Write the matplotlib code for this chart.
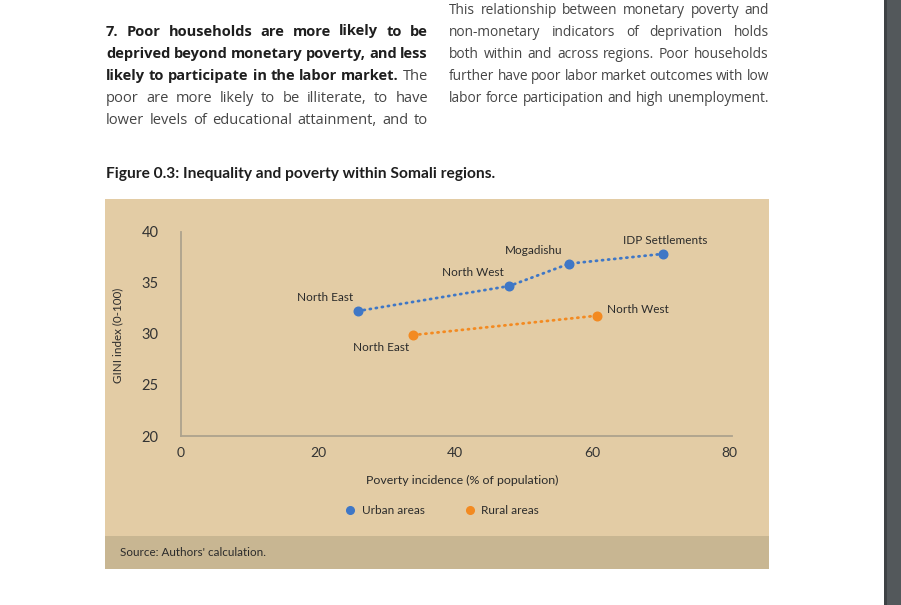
import matplotlib.pyplot as plt
from matplotlib.patches import Rectangle
from matplotlib.lines import Line2D
from matplotlib.font_manager import FontProperties

# data
urban_names = ['North East', 'North West', 'Mogadishu', 'IDP Settlements']
urban_poverty = [25.8, 47.9, 56.7, 70.3]
urban_gini = [32.25, 34.7, 36.9, 37.85]

rural_names = ['North East', 'North West']
rural_poverty = [33.9, 60.8]
rural_gini = [29.9, 31.8]

x_ticks = [0, 20, 40, 60, 80]
y_ticks = [20, 25, 30, 35, 40]

W, H = 901, 605
fig = plt.figure(figsize=(W / 100, H / 100), dpi=100)
fig.patch.set_facecolor('white')
BODY = 'Open Sans'
CHART = 'Lato'
blue = '#3F77C6'
orange = '#F38A21'
r = fig.canvas.get_renderer()


def rect(x0, y0, x1, y1, color, z=0):
    fig.add_artist(Rectangle((x0 / W, 1 - y1 / H), (x1 - x0) / W, (y1 - y0) / H,
                             transform=fig.transFigure, color=color, zorder=z, lw=0))


def measure(words, sz):
    ws = []
    for w, bold in words:
        fp = FontProperties(family=BODY, size=sz, weight='bold' if bold else 'normal')
        ws.append(r.get_text_width_height_descent(w, fp, ismath=False)[0])
    return ws


def fit_size(lines, width, size=10.6):
    # largest size that keeps at least 3px between words on every line
    while size > 8:
        ok = all(width - sum(measure(ws, size)) >= 3 * (len(ws) - 1) for ws in lines)
        if ok:
            break
        size -= 0.1
    return round(size, 1)


def justify(words, x0, x1, base, size):
    widths = measure(words, size)
    gap = (x1 - x0 - sum(widths)) / max(len(words) - 1, 1)
    x = x0
    for (w, bold), wd in zip(words, widths):
        fig.text(x / W, 1 - base / H, w, fontsize=size, family=BODY,
                 fontweight='bold' if bold else 'normal',
                 color='#1e1e1e' if bold else '#454545', va='baseline', ha='left')
        x += wd + gap


left_lines = [
    ('7. Poor households are more likely to be', True, None),
    ('deprived beyond monetary poverty, and less', True, None),
    ('likely to participate in the labor market.', True, 'The'),
    ('poor are more likely to be illiterate, to have', False, None),
    ('lower levels of educational attainment, and to', False, None),
]
left_words = []
for txt, bold, extra in left_lines:
    words = [(w, bold) for w in txt.split()]
    if extra:
        words.append((extra, False))
    left_words.append(words)
ls = fit_size(left_words, 428 - 106)
for i, words in enumerate(left_words):
    justify(words, 106, 428, 35.5 + i * 22.2, ls)

right_lines = [
    'This relationship between monetary poverty and',
    'non-monetary indicators of deprivation holds',
    'both within and across regions. Poor households',
    'further have poor labor market outcomes with low',
    'labor force participation and high unemployment.',
]
right_words = [[(w, False) for w in txt.split()] for txt in right_lines]
rs = fit_size(right_words, 769 - 449)
for i, words in enumerate(right_words):
    justify(words, 449, 769, 13.5 + i * 22.2, rs)

fig.text(106 / W, 1 - 174 / H, 'Figure 0.3: Inequality and poverty within Somali regions.',
         fontsize=11.2, fontweight='bold', family=CHART, color='#1e1e1e', va='center')

# chart panel + source band + viewer scrollbar strip
rect(105, 199, 769, 569, '#E3CCA5')
rect(105, 536, 769, 569, '#C8B692', 1)
rect(884, 0, 901, 605, '#53585B')
rect(884, 0, 887, 605, '#3E4245', 1)

ax = fig.add_axes([181 / W, 1 - 436 / H, (729 - 181) / W, (436 - 232) / H])
ax.set_facecolor('none')
ax.set_xlim(0, 80)
ax.set_ylim(20, 40)
ax.set_xticks(x_ticks)
ax.set_yticks(y_ticks)
for s in ['top', 'right']:
    ax.spines[s].set_visible(False)
for s in ['left', 'bottom']:
    ax.spines[s].set_color('#ADA28D')
    ax.spines[s].set_linewidth(1.3)
ax.spines['bottom'].set_bounds(0, 80.4)
ax.tick_params(axis='both', length=0, labelcolor='#333333')
ax.tick_params(axis='y', pad=16, labelsize=10.5)
ax.tick_params(axis='x', pad=8, labelsize=10)
for lab in ax.get_xticklabels() + ax.get_yticklabels():
    lab.set_family(CHART)

ax.plot(urban_poverty, urban_gini, color=blue, lw=2, ls=(0, (0.4, 1.8)),
        dash_capstyle='round')
ax.plot(rural_poverty, rural_gini, color=orange, lw=2, ls=(0, (0.4, 1.8)),
        dash_capstyle='round')
ax.plot(urban_poverty, urban_gini, 'o', color=blue, ms=6.2, label='Urban areas', clip_on=False)
ax.plot(rural_poverty, rural_gini, 'o', color=orange, ms=6.2, label='Rural areas', clip_on=False)

urban_off = [(-33, 14), (-36, 14), (-36, 13), (3, 13)]
rural_off = [(-32, -12), (40, 6)]
for names, xs, ys, offs in [(urban_names, urban_poverty, urban_gini, urban_off),
                            (rural_names, rural_poverty, rural_gini, rural_off)]:
    for n, x, y, o in zip(names, xs, ys, offs):
        ax.annotate(n, (x, y), xytext=o, textcoords='offset pixels', ha='center',
                    va='center', fontsize=8.5, family=CHART, color='#2b2b2b')

fig.text(462 / W, 1 - 480 / H, 'Poverty incidence (% of population)', ha='center',
         va='center', fontsize=8.9, family=CHART, color='#2b2b2b')
fig.text(118 / W, 1 - 335 / H, 'GINI index (0-100)', ha='center', va='center',
         rotation=90, fontsize=8.4, family=CHART, color='#2b2b2b')

handles = [Line2D([], [], marker='o', ls='none', color=blue, ms=5.5, label='Urban areas'),
           Line2D([], [], marker='o', ls='none', color=orange, ms=5.5, label='Rural areas')]
leg = fig.legend(handles=handles, loc='center', bbox_to_anchor=(441 / W, 1 - 511 / H),
                 ncol=2, frameon=False, fontsize=8.5, handletextpad=0.4,
                 columnspacing=3.2, handlelength=1.2)
for t in leg.get_texts():
    t.set_family(CHART)
    t.set_color('#2b2b2b')

fig.text(120 / W, 1 - 552 / H, "Source: Authors' calculation.", va='center',
         fontsize=8.4, family=CHART, color='#2b2b2b', zorder=3)

fig.savefig('out.png', dpi=100)
